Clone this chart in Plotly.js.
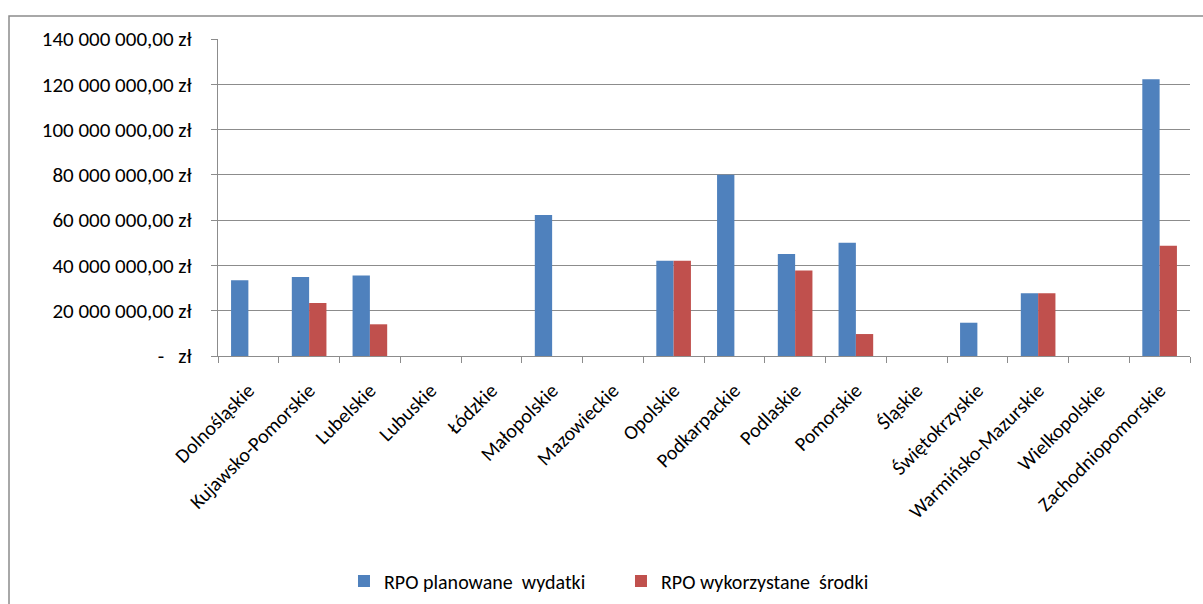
<!DOCTYPE html>
<html>
<head>
<meta charset="utf-8">
<script src="https://cdn.plot.ly/plotly-3.0.1.min.js"></script>
<style>
html,body{margin:0;padding:0;background:#fff;}
#chart{width:1203px;height:604px;}
</style>
</head>
<body>
<div id="chart"></div>
<script>
const categories = ["Dolnośląskie","Kujawsko-Pomorskie","Lubelskie","Lubuskie","Łódzkie","Małopolskie","Mazowieckie","Opolskie","Podkarpackie","Podlaskie","Pomorskie","Śląskie","Świętokrzyskie","Warmińsko-Mazurskie","Wielkopolskie","Zachodniopomorskie"];
const planned = [33500000, 34900000, 35600000, 0, 0, 62300000, 0, 42100000, 80000000, 45000000, 50000000, 0, 14700000, 27700000, 0, 122200000];
const used = [0, 23400000, 14000000, 0, 0, 0, 0, 42100000, 0, 37800000, 9700000, 0, 0, 27700000, 0, 48700000];
const seriesNames = ["RPO planowane  wydatki", "RPO wykorzystane  środki"];
const tickVals = [0, 20000000, 40000000, 60000000, 80000000, 100000000, 120000000, 140000000];
const tickLabels = ["-   zł", "20 000 000,00 zł", "40 000 000,00 zł", "60 000 000,00 zł", "80 000 000,00 zł", "100 000 000,00 zł", "120 000 000,00 zł", "140 000 000,00 zł"];

const fontFam = "Carlito, Calibri, 'Open Sans', 'Liberation Sans', sans-serif";
const L = 218, R = 13, T = 39, B = 248;
const W = 1203, H = 604;
const pw = W - L - R, ph = H - T - B;

const traces = [
  {type:'bar', name: seriesNames[0], x: categories, y: planned, marker:{color:'#4F81BD'}},
  {type:'bar', name: seriesNames[1], x: categories, y: used, marker:{color:'#C0504D'}}
];

const layout = {
  width: W, height: H,
  margin: {l: L, r: R, t: T, b: B, pad: 0, autoexpand: false},
  paper_bgcolor: '#fff', plot_bgcolor: '#fff',
  barmode: 'group', bargap: 0.43, bargroupgap: 0,
  font: {family: fontFam, size: 20, color: '#000'},
  showlegend: true,
  legend: {orientation: 'h', x: 0.4146, xanchor: 'center', y: 1 - 581 / H, yanchor: 'middle', yref: 'container',
           font: {family: fontFam, size: 20, color: '#000'}, itemwidth: 30, entrywidth: 232, traceorder: 'normal'},
  xaxis: {
    type: 'category', tickangle: -45, showgrid: false, showline: true, linecolor: '#8c8c8c', linewidth: 1,
    ticks: 'outside', ticklen: 6, tickcolor: '#8c8c8c', tickson: 'boundaries', ticklabelstandoff: 14,
    tickfont: {family: fontFam, size: 20, color: '#000'}, fixedrange: true, automargin: false
  },
  yaxis: {
    range: [0, 140000000], tickvals: tickVals, ticktext: tickLabels, showgrid: true, gridcolor: '#8c8c8c', gridwidth: 1,
    showline: true, linecolor: '#8c8c8c', linewidth: 1, ticks: 'outside', ticklen: 6, tickcolor: '#8c8c8c',
    tickfont: {family: fontFam, size: 21, color: '#000'}, ticklabelstandoff: 15, zeroline: false, fixedrange: true, automargin: false
  },
  shapes: [
    {type: 'rect', xref: 'paper', yref: 'paper',
     x0: (9 - L) / pw, x1: (W + 20 - L) / pw,
     y0: (T + ph - 16) / ph, y1: (T + ph - (H + 20)) / ph,
     line: {color: '#8c8c8c', width: 1.5}, fillcolor: 'rgba(0,0,0,0)', layer: 'below'}
  ]
};

Plotly.newPlot('chart', traces, layout, {displayModeBar: false, staticPlot: true});
</script>
</body>
</html>
